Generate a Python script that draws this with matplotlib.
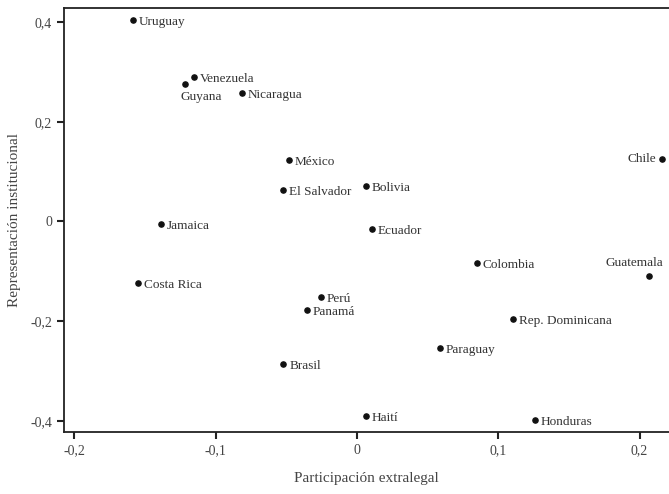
import matplotlib
matplotlib.use("Agg")
import matplotlib.pyplot as plt

# data
countries = ["Uruguay", "Venezuela", "Guyana", "Nicaragua", "México", "El Salvador",
             "Bolivia", "Jamaica", "Ecuador", "Costa Rica", "Perú", "Panamá", "Brasil",
             "Haití", "Colombia", "Paraguay", "Rep. Dominicana", "Honduras",
             "Guatemala", "Chile"]
participacion = [-0.1585, -0.1153, -0.1217, -0.0816, -0.0481, -0.0524,
                 0.0061, -0.139, 0.0104, -0.155, -0.0255, -0.0354, -0.0522,
                 0.0064, 0.0847, 0.0587, 0.1102, 0.126,
                 0.2069, 0.216]
representacion = [0.404, 0.290, 0.275, 0.258, 0.123, 0.063,
                  0.071, -0.005, -0.016, -0.123, -0.151, -0.177, -0.286,
                  -0.389, -0.083, -0.253, -0.196, -0.398,
                  -0.109, 0.125]

xticks = [-0.2, -0.1, 0, 0.1, 0.2]
yticks = [-0.4, -0.2, 0, 0.2, 0.4]

# label placement: (dx, dy, ha, va) in pixels
special = {
    "Guyana": (-5, -7, "left", "top"),
    "Guatemala": (14, 7, "right", "bottom"),
    "Chile": (-6, 0, "right", "center"),
}

plt.rcParams["font.family"] = ["Liberation Serif", "DejaVu Serif"]

fig = plt.figure(figsize=(6.69, 4.94), dpi=100)
ax = fig.add_axes([64 / 669, 1 - 432 / 494, 605 / 669, 424 / 494])

ax.scatter(participacion, representacion, s=14, color="#111111", zorder=3, clip_on=False)

for name, x, y in zip(countries, participacion, representacion):
    dx, dy, ha, va = special.get(name, (6, -2, "left", "center"))
    ax.annotate(name, (x, y), xytext=(dx, dy), textcoords="offset pixels",
                ha=ha, va=va, fontsize=9.5, color="#333333")

ax.set_xlim(-0.2074, 0.2208)
ax.set_ylim(-0.422, 0.428)
ax.set_xticks(xticks)
ax.set_yticks(yticks)
ax.set_xticklabels([("%g" % t).replace(".", ",") for t in xticks])
ax.set_yticklabels([("%g" % t).replace(".", ",") for t in yticks])
ax.tick_params(direction="out", length=5, width=1.5, labelsize=10, colors="#222222",
               labelcolor="#444444")

for side in ["left", "bottom", "top"]:
    ax.spines[side].set_linewidth(1.3)
    ax.spines[side].set_color("#222222")
ax.spines["right"].set_visible(False)

ax.set_xlabel("Participación extralegal", fontsize=11, color="#444444", labelpad=11)
ax.set_ylabel("Representación institucional", fontsize=11, color="#444444", labelpad=7)

fig.savefig("out.png", dpi=100)
